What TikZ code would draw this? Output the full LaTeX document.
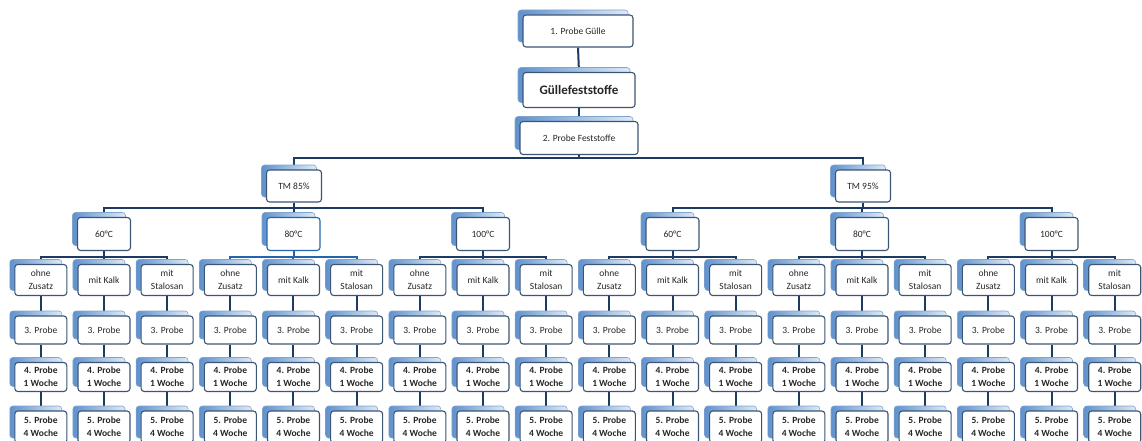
\documentclass[tikz,border=0pt]{standalone}
\usepackage{fontspec}
\setmainfont{Carlito}
\usetikzlibrary{shadows,backgrounds,calc}
\definecolor{bordc}{RGB}{60,85,115}
\definecolor{connc}{RGB}{28,58,98}
\definecolor{shL}{RGB}{95,145,205}
\definecolor{shR}{RGB}{222,234,247}
\definecolor{shD}{RGB}{130,165,205}
\definecolor{hilc}{RGB}{35,100,175}
\begin{document}
\begin{tikzpicture}[x=1pt,y=-1pt,
  bx/.style={draw=bordc, line width=1.1pt, rounded corners=3pt, fill=white,
    align=center, inner sep=1pt, text=black!85,
    font=\fontsize{9.5}{13}\selectfont,
    general shadow={shadow xshift=-5pt, shadow yshift=5pt, left color=shL,
      right color=shR, draw=shD, line width=0.6pt}},
  topbox/.style={bx, minimum width=110pt, minimum height=32pt},
  tmbox/.style={bx, minimum width=55pt, minimum height=32pt},
  tbox/.style={bx, minimum width=53pt, minimum height=33pt},
  kbox/.style={bx, minimum width=52pt, minimum height=31pt},
  pbox/.style={bx, minimum width=52pt, minimum height=28pt},
  wbox/.style={bx, minimum width=52pt, minimum height=29pt, font=\fontsize{9.5}{13}\selectfont\bfseries},
  conn/.style={draw=connc, line width=2pt},
]
\useasboundingbox (0,0) rectangle (1142,441);
% top chain
\node[topbox] (n1) at (578,31) {1. Probe Gülle};
\node[topbox, minimum width=112pt, minimum height=35pt, font=\fontsize{13}{15}\selectfont\bfseries] (n2) at (579,90) {Güllefeststoffe};
\node[topbox, minimum width=118pt, minimum height=33pt] (n3) at (579,138) {2. Probe Feststoffe};
% TM
\node[tmbox] (tm0) at (294,186) {TM 85\%};
\node[tmbox] (tm1) at (863,186) {TM 95\%};
% temperatures
\foreach \g/\lab in {0/60,1/80,2/100,3/60,4/80,5/100} {
  \pgfmathsetmacro\gx{104+189.5*\g}
  \ifnum\g=1
    \node[tbox, draw=hilc] (t\g) at (\gx,234) {\lab°C};
  \else
    \node[tbox] (t\g) at (\gx,234) {\lab°C};
  \fi
}
% columns
\foreach \g in {0,...,5} {
  \foreach \k/\lab in {0/{ohne\\Zusatz},1/{mit Kalk},2/{mit\\Stalosan}} {
    \pgfmathtruncatemacro\i{3*\g+\k}
    \pgfmathsetmacro\cx{40.8+63.17*\i}
    \node[kbox] (a\i) at (\cx,280) {\lab};
    \node[pbox] (b\i) at (\cx,330) {3. Probe};
    \node[wbox] (c\i) at (\cx,377) {4. Probe\\1 Woche};
    \node[wbox, minimum height=32pt] (d\i) at (\cx,427) {5. Probe\\4 Woche};
  }
}
\coordinate (bar1) at (0,158);
\coordinate (bar2) at (0,208);
\coordinate (bar3) at (0,257);
\begin{scope}[on background layer]
  \draw[conn] (n1.south) -- (n2.north);
  \draw[conn] (n2.south) -- (n3.north);
  \draw[conn] (n3.south) -- (n3.south |- bar1);
  \draw[conn] (tm0.north) -- (tm0.north |- bar1) -- (tm1.north |- bar1) -- (tm1.north);
  \foreach \p/\a/\b/\c in {tm0/t0/t1/t2, tm1/t3/t4/t5} {
    \draw[conn] (\p.south) -- (\p.south |- bar2);
    \draw[conn] (\a.north) -- (\a.north |- bar2) -- (\c.north |- bar2) -- (\c.north);
    \draw[conn] (\b.north) -- (\b.north |- bar2);
  }
  \foreach \g in {0,...,5} {
    \pgfmathtruncatemacro\ia{3*\g}
    \pgfmathtruncatemacro\ib{3*\g+1}
    \pgfmathtruncatemacro\ic{3*\g+2}
    \ifnum\g=1 \def\cc{hilc}\else\def\cc{connc}\fi
    \draw[conn, draw=\cc] (t\g.south) -- (t\g.south |- bar3);
    \draw[conn, draw=\cc] (a\ia.north) -- (a\ia.north |- bar3) -- (a\ic.north |- bar3) -- (a\ic.north);
    \draw[conn, draw=\cc] (a\ib.north) -- (a\ib.north |- bar3);
  }
  \foreach \i in {0,...,17} {
    \draw[conn] (a\i.south) -- (b\i.north);
    \draw[conn] (b\i.south) -- (c\i.north);
    \draw[conn] (c\i.south) -- (d\i.north);
  }
\end{scope}
\end{tikzpicture}
\end{document}
